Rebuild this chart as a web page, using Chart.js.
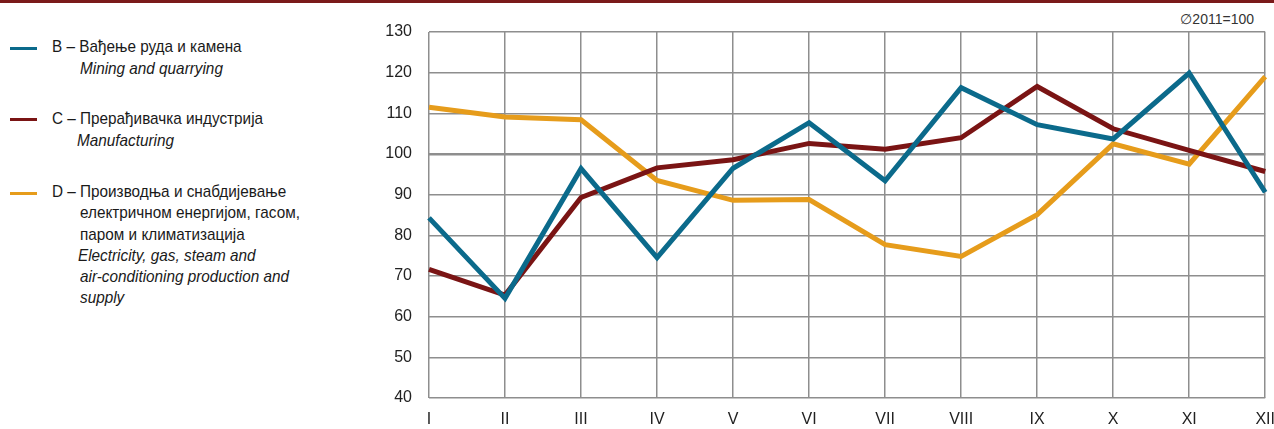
<!DOCTYPE html>
<html>
<head>
<meta charset="utf-8">
<script src="https://cdn.jsdelivr.net/npm/chart.js@4"></script>
<style>
  body { margin: 0; width: 1274px; height: 429px; background: #fff; overflow: hidden; position: relative;
         font-family: "Liberation Sans Narrow", "Liberation Sans", Arial, sans-serif; color: #1a1a1a; }
  #topline { position: absolute; left: 0; top: 0; width: 1274px; height: 3px; background: #7a1a1a; }
  #wrap { position: absolute; left: 380px; top: 0; width: 907px; height: 429px; }
  .mk { position: absolute; left: 10px; width: 27px; height: 3px; }
  .t { position: absolute; font-size: 17px; white-space: nowrap; line-height: 21px;
       transform: scaleX(0.9); transform-origin: 0 0; }
  .i { font-style: italic; }
  #note { position: absolute; right: 20px; top: 11px; font-size: 14px; color: #333; }
</style>
</head>
<body>
<div id="topline"></div>

<div class="mk" style="top:47px;background:#0b6a8b"></div>
<div class="t" style="left:52px;top:36px">B – Вађење руда и камена</div>
<div class="t i" style="left:80px;top:58px">Mining and quarrying</div>

<div class="mk" style="top:118px;background:#7a1414"></div>
<div class="t" style="left:52px;top:108px">C – Прерађивачка индустрија</div>
<div class="t i" style="left:77px;top:130px">Manufacturing</div>

<div class="mk" style="top:192px;background:#e69c1b"></div>
<div class="t" style="left:52px;top:181px">D – Производња и снабдијевање</div>
<div class="t" style="left:80px;top:202px">електричном енергијом, гасом,</div>
<div class="t" style="left:80px;top:224px">паром и климатизација</div>
<div class="t i" style="left:78px;top:245px">Electricity, gas, steam and</div>
<div class="t i" style="left:80px;top:266px">air-conditioning production and</div>
<div class="t i" style="left:80px;top:287px">supply</div>

<div id="note">∅2011=100</div>

<div id="wrap"><canvas id="myChart"></canvas></div>

<script>
// mjeseci
var months = ['I', 'II', 'III', 'IV', 'V', 'VI', 'VII', 'VIII', 'IX', 'X', 'XI', 'XII'];

// B - vadjenje ruda i kamena
var mining = [84.3, 64.5, 96.4, 74.5, 96.5, 107.7, 93.4, 116.3, 107.2, 103.7, 119.9, 90.6];
// C - preradjivacka industrija
var manufacturing = [71.6, 65.3, 89.3, 96.6, 98.6, 102.6, 101.2, 104.0, 116.6, 106.2, 100.9, 95.7];
// D - elektricna energija, gas, para
var electricity = [111.5, 109.1, 108.4, 93.5, 88.6, 88.8, 77.7, 74.8, 85.1, 102.5, 97.5, 119.0];

var yMin = 40;
var yMax = 130;
var yStep = 10;

var tickFont = { family: '"Liberation Sans Narrow", "Liberation Sans", Arial', size: 16 };

var ctx = document.getElementById('myChart');
var myChart = new Chart(ctx, {
    type: 'line',
    data: {
        labels: months,
        datasets: [{
            label: 'B',
            data: mining,
            borderColor: '#0b6a8b',
            borderWidth: 5
        }, {
            label: 'C',
            data: manufacturing,
            borderColor: '#7a1414',
            borderWidth: 5
        }, {
            label: 'D',
            data: electricity,
            borderColor: '#e69c1b',
            borderWidth: 5
        }]
    },
    options: {
        responsive: true,
        maintainAspectRatio: false,
        animation: false,
        layout: {
            padding: { top: 32, right: 10, left: 0, bottom: 0 }
        },
        elements: {
            point: { radius: 0 },
            line: { tension: 0, borderJoinStyle: 'miter', fill: false }
        },
        datasets: {
            line: { clip: false }
        },
        plugins: {
            legend: { display: false },
            tooltip: { enabled: false }
        },
        scales: {
            x: {
                offset: false,
                grid: { color: '#8e8e8e', lineWidth: 1.5, drawTicks: false },
                border: { display: false },
                ticks: {
                    color: '#222',
                    padding: 12,
                    maxRotation: 0,
                    autoSkip: false,
                    font: tickFont
                },
                afterFit: function (s) { s.height = 31; }
            },
            y: {
                min: yMin,
                max: yMax,
                grid: {
                    color: '#8e8e8e',
                    drawTicks: false,
                    lineWidth: function (c) { return c.tick && c.tick.value === 100 ? 2.5 : 1.5; }
                },
                border: { display: false },
                ticks: {
                    stepSize: yStep,
                    color: '#222',
                    padding: 17,
                    font: tickFont
                },
                afterFit: function (s) { s.width = 49; }
            }
        }
    }
});
</script>
</body>
</html>
